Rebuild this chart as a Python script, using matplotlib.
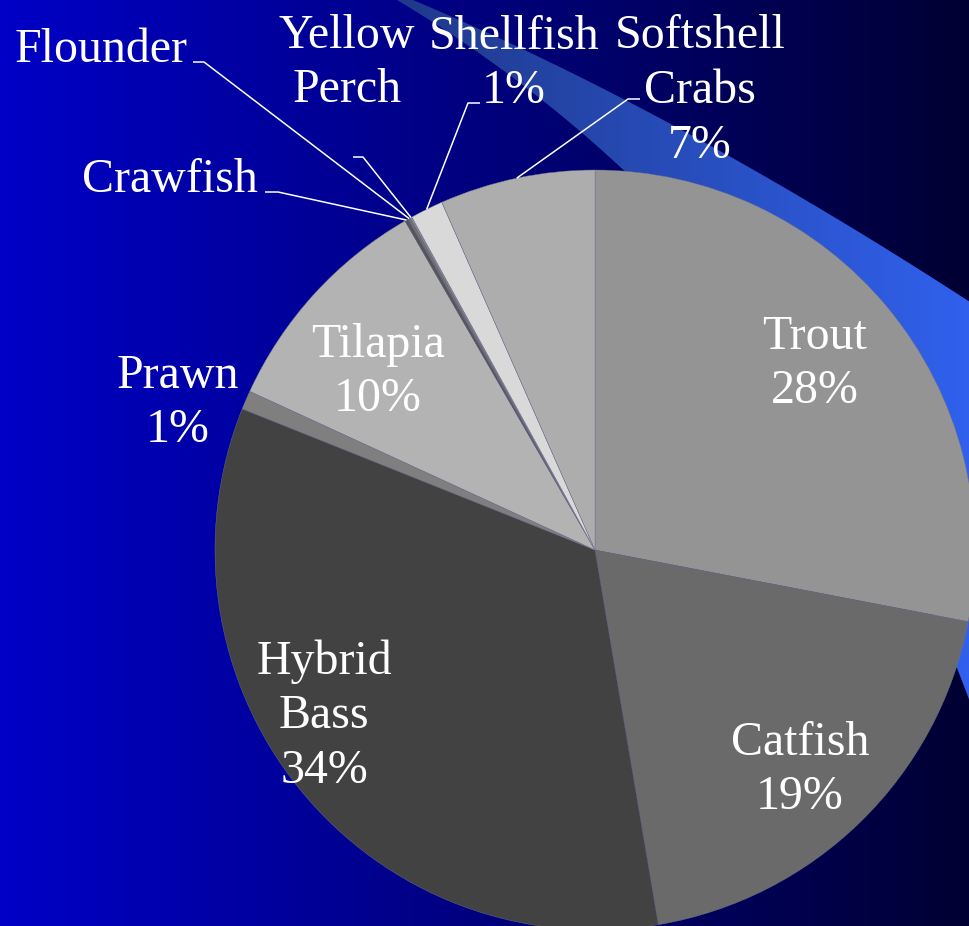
import matplotlib
matplotlib.use('Agg')
import matplotlib.pyplot as plt
import numpy as np
from matplotlib.patches import Polygon

plt.rcParams['font.family'] = ['Liberation Serif', 'DejaVu Serif']

W, H = 970, 926

# shares (percent), clockwise from 12 o'clock
fish = ['Trout', 'Catfish', 'Hybrid\nBass', 'Prawn', 'Tilapia',
        'Crawfish', 'Flounder', 'Yellow\nPerch', 'Shellfish', 'Softshell\nCrabs']
share = [28.0, 19.3, 33.7, 0.8, 9.8, 0.15, 0.1, 0.08, 1.4, 6.6]
colours = ['#949494', '#6a6a6a', '#424242', '#7f7f7f', '#b3b3b3',
           '#555555', '#707070', '#8c8c8c', '#d9d9d9', '#adadad']

# label centres in picture pixels (y downwards)
label_xy = {'Trout': (815, 364), 'Catfish': (800, 770), 'Hybrid\nBass': (324, 716),
            'Prawn': (178, 403), 'Tilapia': (378, 372), 'Crawfish': (170, 180),
            'Flounder': (101, 50), 'Yellow\nPerch': (347, 63), 'Shellfish': (514, 64),
            'Softshell\nCrabs': (700, 91)}
# leader lines: short tick near the label, then a line to the slice
leaders = {'Crawfish': ((265, 192), (278, 192)),
           'Flounder': ((193, 62), (204, 62)),
           'Yellow\nPerch': ((353, 157), (363, 157)),
           'Shellfish': ((480, 103), (468, 103)),
           'Softshell\nCrabs': ((640, 99), (628, 99))}


def px(x, y):
    return (x, H - y)


def bez(p0, c, p2, n=80):
    t = np.linspace(0, 1, n)[:, None]
    p0, c, p2 = np.array(p0), np.array(c), np.array(p2)
    return (1 - t) ** 2 * p0 + 2 * t * (1 - t) * c + t ** 2 * p2


fig = plt.figure(figsize=(W / 100, H / 100), dpi=100)
ax = fig.add_axes([0, 0, 1, 1])

# background: horizontal blue -> navy gradient
bg = np.linspace([0.0, 0.0, 0.78], [0.0, 0.0, 0.2], 256)[None, :, :]
ax.imshow(bg, extent=(0, W, 0, H), aspect='auto', interpolation='bilinear', zorder=0)

# light diagonal stripe behind the pie
upper = bez((413, 0), (674, 110), (970, 302))
lower = bez((397, 0), (799, 241), (970, 702))
pts = np.vstack([upper, [[1010, 320], [1010, 790]], lower[::-1]])
pts[:, 1] = H - pts[:, 1]
stripe = Polygon(pts, closed=True, transform=ax.transData)
sg = np.linspace([0.12, 0.22, 0.53], [0.19, 0.38, 0.93], 256)[None, :, :]
im = ax.imshow(sg, extent=(380, W, 0, H), aspect='auto', interpolation='bilinear', zorder=1)
im.set_clip_path(stripe)

cx, cy, r = px(595, 550)[0], px(595, 550)[1], 380
wedges, _ = ax.pie(share, colors=colours, startangle=90, counterclock=False,
                   center=(cx, cy), radius=r, frame=True,
                   wedgeprops=dict(edgecolor='#70708c', linewidth=0.3))
for w in wedges:
    w.set_zorder(2)

total = sum(share)
for name, val, w in zip(fish, share, wedges):
    pct = round(val / total * 100)
    txt = name + ('\n%d%%' % pct if pct >= 1 else '')
    ax.text(*px(*label_xy[name]), txt, color='white', fontsize=34.5,
            ha='center', va='center', linespacing=1.31, zorder=4)
    if name in leaders:
        a, b = leaders[name]
        mid = np.deg2rad((w.theta1 + w.theta2) / 2)
        end = (cx + r * np.cos(mid), cy + r * np.sin(mid))
        xs = [a[0], b[0], end[0]]
        ys = [H - a[1], H - b[1], end[1]]
        ax.plot(xs, ys, color='white', lw=1.1, zorder=3, solid_capstyle='butt')

ax.set_xlim(0, W)
ax.set_ylim(0, H)
ax.set_aspect('equal')
ax.axis('off')

fig.savefig('out.png', dpi=100)
